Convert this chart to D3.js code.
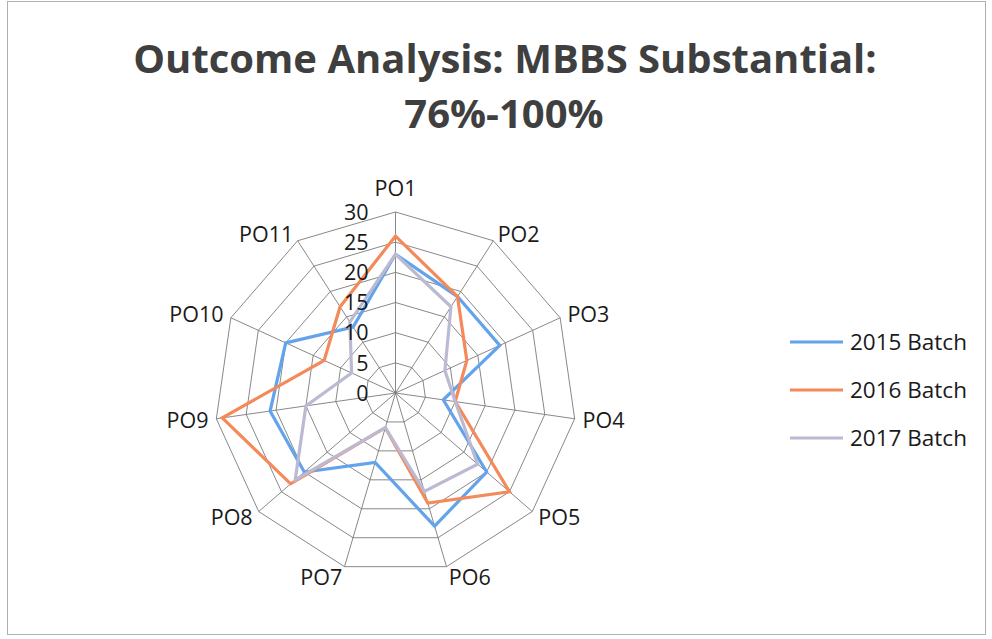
<!DOCTYPE html>
<html>
<head>
<meta charset="utf-8">
<script src="https://cdn.jsdelivr.net/npm/d3@7"></script>
<style>
  body { margin: 0; background: #fff; }
  text { font-family: "Open Sans", sans-serif; }
</style>
</head>
<body>
<script>
// data
var categories = ["PO1", "PO2", "PO3", "PO4", "PO5", "PO6", "PO7", "PO8", "PO9", "PO10", "PO11"];
var batch2015 = [23, 19, 19, 8, 20, 23, 12, 20, 21, 20, 13];
var batch2016 = [26, 19, 13, 10, 25, 19, 6, 23, 29, 13, 17];
var batch2017 = [23, 17, 9, 10, 18, 17, 6, 22, 15, 8, 14];
var seriesNames = ["2015 Batch", "2016 Batch", "2017 Batch"];
var ticks = [0, 5, 10, 15, 20, 25, 30];

var colors = ["#63a3ec", "#f4895a", "#babad3"];
var series = [batch2015, batch2016, batch2017];

var width = 992, height = 639;
var cx = 395.5, cy = 393, R = 181;

var svg = d3.select("body").append("svg")
    .attr("width", width)
    .attr("height", height);

// chart border
svg.append("rect")
    .attr("x", 7.5).attr("y", 1.5)
    .attr("width", 978).attr("height", 633)
    .style("fill", "none")
    .style("stroke", "#b0b0b0");

// radial scale + angle
var r = d3.scaleLinear().domain([0, 30]).range([0, R]);
var angle = d3.scalePoint().domain(categories).range([0, 2 * Math.PI * (1 - 1 / categories.length)]);

function pt(cat, v) {
  var a = angle(cat);
  return [cx + r(v) * Math.sin(a), cy - r(v) * Math.cos(a)];
}

var g = svg.append("g");

// grid rings
ticks.slice(1).forEach(function(t) {
  g.append("polygon")
      .attr("points", categories.map(function(c) { return pt(c, t).join(","); }).join(" "))
      .style("fill", "none")
      .style("stroke", "#7a7a7a")
      .style("stroke-width", 0.9);
});

// spokes
categories.forEach(function(c) {
  var p = pt(c, 30);
  g.append("line")
      .attr("x1", cx).attr("y1", cy)
      .attr("x2", p[0]).attr("y2", p[1])
      .style("stroke", "#7a7a7a")
      .style("stroke-width", 0.9);
});

// series lines
var line = d3.line()
    .x(function(d, i) { return pt(categories[i], d)[0]; })
    .y(function(d, i) { return pt(categories[i], d)[1]; })
    .curve(d3.curveLinearClosed);

series.forEach(function(s, i) {
  g.append("path")
      .datum(s)
      .attr("d", line)
      .style("fill", "none")
      .style("stroke", colors[i])
      .style("stroke-width", 3.2)
      .style("stroke-linejoin", "miter");
});

// tick labels
ticks.forEach(function(t) {
  g.append("text")
      .attr("x", cx - 27)
      .attr("y", cy - r(t))
      .attr("dy", "0.36em")
      .attr("font-size", 21.5)
      .style("text-anchor", "end")
      .style("fill", "#1a1a1a")
      .text(t);
});

// category labels
categories.forEach(function(c) {
  var a = angle(c);
  var s = Math.sin(a), co = Math.cos(a);
  var x = cx + (R + 8) * s, y = cy - (R + 8) * co;
  var anchor = Math.abs(s) < 0.1 ? "middle" : (s > 0 ? "start" : "end");
  var dy = "0.36em";
  if (Math.abs(s) < 0.1) { y -= 8; dy = "0em"; }
  if (co < -0.9) { y += 3; }
  g.append("text")
      .attr("x", x)
      .attr("y", y)
      .attr("dy", dy)
      .attr("font-size", 21.5)
      .style("text-anchor", anchor)
      .style("fill", "#1a1a1a")
      .text(c);
});

// title
var title = svg.append("text")
    .attr("font-size", 40)
    .attr("font-weight", "bold")
    .style("text-anchor", "middle")
    .style("fill", "#3f3f3f");
title.append("tspan").attr("x", 505).attr("y", 73).text("Outcome Analysis: MBBS Substantial:");
title.append("tspan").attr("x", 504).attr("y", 128).text("76%-100%");

// legend
var legend = svg.append("g");
seriesNames.forEach(function(n, i) {
  var ly = 342 + i * 48;
  legend.append("line")
      .attr("x1", 790).attr("x2", 843)
      .attr("y1", ly).attr("y2", ly)
      .style("stroke", colors[i])
      .style("stroke-width", 3);
  legend.append("text")
      .attr("x", 850)
      .attr("y", ly)
      .attr("dy", "0.36em")
      .attr("font-size", 22.5)
      .style("fill", "#1a1a1a")
      .text(n);
});
</script>
</body>
</html>
